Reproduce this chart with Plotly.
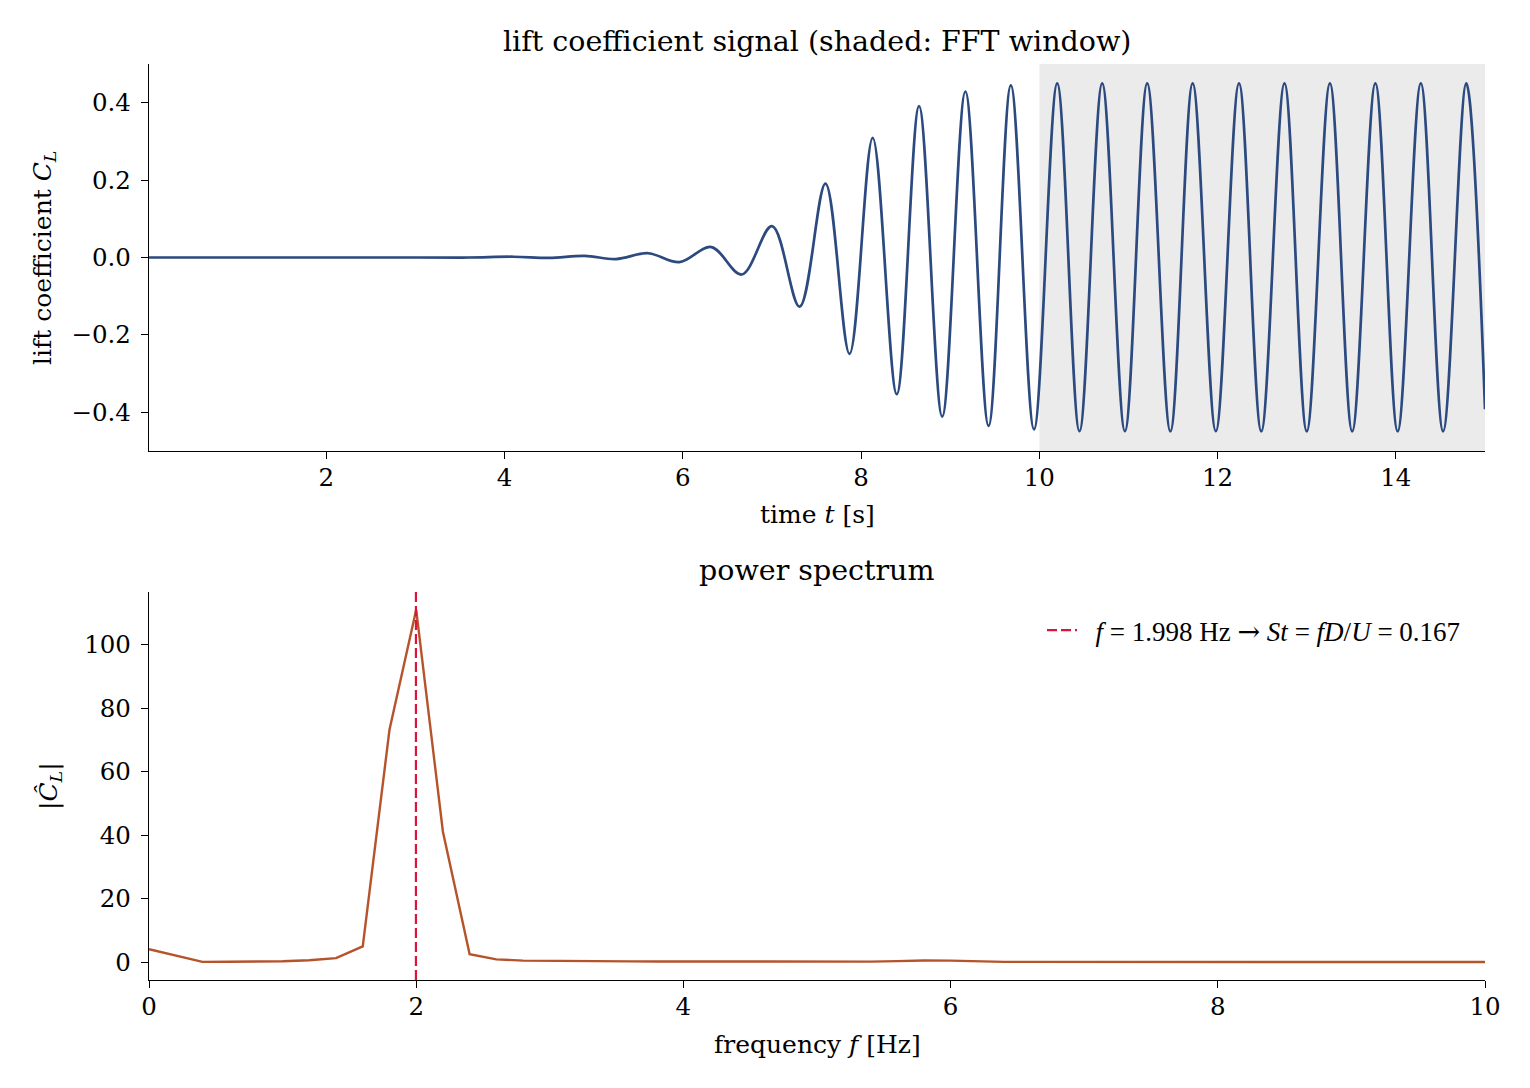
import plotly.graph_objects as go

# ---- data ----
# lift coefficient signal: turning points (time [s], C_L)
t_pts = [0.01, 1.0, 2.0, 3.0, 3.6, 4.1, 4.5, 4.9, 5.25, 5.61, 5.96, 6.32, 6.66,
         7.00, 7.31, 7.60, 7.87, 8.13, 8.40, 8.65, 8.91, 9.17, 9.43, 9.68, 9.94,
         10.20, 10.45, 10.705, 10.96, 11.21, 11.47, 11.72, 11.98, 12.24, 12.49,
         12.75, 13.00, 13.26, 13.51, 13.77, 14.02, 14.28, 14.53, 14.79, 15.0]
cl_pts = [0.0, 0.0, 0.0, 0.0, 0.0, 0.002, -0.001, 0.004, -0.004, 0.011, -0.012, 0.027, -0.044,
          0.081, -0.127, 0.191, -0.249, 0.309, -0.353, 0.391, -0.411, 0.429, -0.435, 0.445, -0.444,
          0.450, -0.449, 0.450, -0.449, 0.450, -0.449, 0.450, -0.449, 0.450, -0.449,
          0.450, -0.449, 0.450, -0.449, 0.450, -0.449, 0.450, -0.449, 0.450, -0.392]

fft_window = [10.0, 15.0]

# power spectrum
freqs = [0.0, 0.2, 0.4, 0.6, 0.8, 1.0, 1.2, 1.4, 1.6, 1.8, 2.0, 2.2, 2.4, 2.6, 2.8,
         3.0, 3.2, 3.4, 3.6, 3.8, 4.0, 4.2, 4.4, 4.6, 4.8, 5.0, 5.2, 5.4, 5.6, 5.8,
         6.0, 6.2, 6.4, 6.6, 6.8, 7.0, 7.2, 7.4, 7.6, 7.8, 8.0, 8.2, 8.4, 8.6, 8.8,
         9.0, 9.2, 9.4, 9.6, 9.8, 10.0]
spectrum = [4.1, 2.1, 0.1, 0.15, 0.2, 0.3, 0.6, 1.3, 5.0, 73.2, 111.0, 41.1, 2.5, 0.9, 0.5,
            0.4, 0.35, 0.3, 0.28, 0.25, 0.22, 0.2, 0.19, 0.18, 0.17, 0.16, 0.16, 0.2, 0.35, 0.55,
            0.5, 0.2, 0.12, 0.11, 0.1, 0.1, 0.09, 0.09, 0.08, 0.08, 0.08, 0.07, 0.07, 0.07, 0.06,
            0.06, 0.06, 0.06, 0.05, 0.05, 0.05]
peak_freq = 1.998
legend_label = ("&nbsp;&nbsp;<i>f</i>&nbsp;=&nbsp;1.998 Hz&nbsp;"
                "<span style=\"font-family:'DejaVu Serif'\">→</span>&nbsp;"
                "<i>St</i>&nbsp;=&nbsp;<i>fD</i>/<i>U</i>&nbsp;=&nbsp;0.167")

# ---- figure ----
W, H = 1530, 1088
FONT = "DejaVu Serif"
TICK = 24.5
LAB = 25
TIT = 28.5

top_x = [149 / W, 1485 / W]
top_y = [1 - 451 / H, 1 - 64 / H]
bot_y = [1 - 980 / H, 1 - 592 / H]

fig = go.Figure()

fig.add_trace(go.Scatter(x=t_pts, y=cl_pts, mode="lines",
                         line=dict(color="#2c4a7f", width=2.7, shape="spline", smoothing=1.0),
                         xaxis="x", yaxis="y", showlegend=False))

fig.add_trace(go.Scatter(x=freqs, y=spectrum, mode="lines",
                         line=dict(color="#b5532b", width=2.4),
                         xaxis="x2", yaxis="y2", showlegend=False))

bot_range = [-5.6, 116.6]
fig.add_trace(go.Scatter(x=[peak_freq, peak_freq], y=bot_range, mode="lines",
                         line=dict(color="#dc143c", width=2.2, dash="10px,4px"),
                         xaxis="x2", yaxis="y2", name=legend_label, showlegend=True))

fig.add_shape(type="rect", xref="x", yref="y", x0=fft_window[0], x1=fft_window[1],
              y0=-0.5, y1=0.5, fillcolor="rgba(128,128,128,0.16)", line_width=0, layer="below")

axis_common = dict(showline=True, linecolor="black", linewidth=1.4, ticks="outside",
                   ticklen=7, tickwidth=1.4, tickcolor="black", showgrid=False,
                   zeroline=False, mirror=False,
                   tickfont=dict(family=FONT, size=TICK, color="black"))

fig.update_layout(
    width=W, height=H, margin=dict(l=0, r=0, t=0, b=0, autoexpand=False),
    paper_bgcolor="white", plot_bgcolor="white",
    font=dict(family=FONT, color="black"),
    xaxis=dict(domain=top_x, anchor="y", range=[0.01, 15], tickvals=[2, 4, 6, 8, 10, 12, 14],
               ticklabelstandoff=-3, **axis_common),
    yaxis=dict(domain=top_y, anchor="x", range=[-0.5, 0.5],
               tickvals=[-0.4, -0.2, 0.0, 0.2, 0.4], ticktext=["−0.4", "−0.2", "0.0", "0.2", "0.4"],
               ticklabelstandoff=5, **axis_common),
    xaxis2=dict(domain=top_x, anchor="y2", range=[0, 10], tickvals=[0, 2, 4, 6, 8, 10],
                ticklabelstandoff=-3, **axis_common),
    yaxis2=dict(domain=bot_y, anchor="x2", range=bot_range, tickvals=[0, 20, 40, 60, 80, 100],
                ticklabelstandoff=5, **axis_common),
    legend=dict(x=1466 / W, xanchor="right", y=1 - 606 / H, yanchor="top",
                bgcolor="rgba(0,0,0,0)", font=dict(family="Liberation Serif", size=27)),
)

cx = (149 + 1485) / 2 / W
ann = [
    dict(text="lift coefficient signal (shaded: FFT window)", x=cx, y=1 - 41 / H, size=TIT),
    dict(text="power spectrum", x=cx, y=1 - 570 / H, size=TIT),
    dict(text="time <i>t</i> [s]", x=cx, y=1 - 514 / H, size=LAB),
    dict(text="frequency <i>f</i> [Hz]", x=cx, y=1 - 1044 / H, size=LAB),
]
for a in ann:
    fig.add_annotation(text=a["text"], x=a["x"], y=a["y"], xref="paper", yref="paper",
                       xanchor="center", yanchor="middle", showarrow=False,
                       font=dict(family=FONT, size=a["size"], color="black"))

fig.add_annotation(text="lift coefficient <i>C</i><sub><i>L</i></sub>", x=44 / W, y=1 - 258 / H,
                   xref="paper", yref="paper", xanchor="center", yanchor="middle",
                   textangle=-90, showarrow=False, font=dict(family=FONT, size=LAB, color="black"))
fig.add_annotation(text="|<i>C&#770;</i><sub><i>L</i></sub>|", x=50 / W, y=1 - 786 / H,
                   xref="paper", yref="paper", xanchor="center", yanchor="middle",
                   textangle=-90, showarrow=False, font=dict(family=FONT, size=LAB, color="black"))

fig.write_html("out.html")
